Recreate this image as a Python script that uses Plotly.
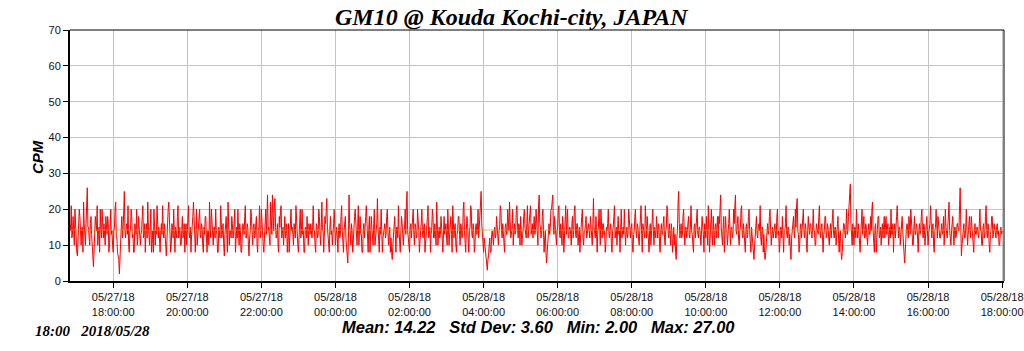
import pandas as pd
import plotly.graph_objects as go

# ---- data (CPM, one reading per minute, starting 2018-05-27 16:50) ----
start_time = "2018-05-27 16:50"
interval = "1min"
cpm = [
    16,14,21,12,13,18,15,10,20,14,12,8,7,13,14,20,18,12,10,15,15,8,22,16,13,10,16,22,26,15,
    15,12,10,16,18,13,8,7,4,8,12,18,16,14,21,10,13,15,8,20,15,12,20,13,12,16,14,10,18,13,
    13,18,16,8,10,15,20,13,14,10,8,14,15,20,22,12,12,8,7,6,2,8,10,15,18,12,14,21,25,14,
    12,15,16,13,21,10,8,14,14,20,18,12,13,8,8,16,15,13,20,10,12,18,16,14,10,13,14,18,21,12,
    13,16,8,14,16,12,22,15,12,10,15,20,8,13,14,8,20,15,10,14,13,21,18,12,15,10,8,14,16,13,
    21,14,12,16,14,10,7,13,16,20,22,14,13,8,10,16,15,12,20,13,8,15,14,12,18,21,12,15,15,10,
    10,14,18,12,13,16,8,14,16,10,14,20,21,13,12,15,8,13,15,18,22,14,13,8,16,20,10,13,14,16,
    20,13,12,16,15,10,8,15,13,18,18,12,8,14,14,10,22,15,12,20,16,13,10,15,15,12,20,14,13,8,
    8,15,14,12,21,16,12,14,16,10,7,13,15,18,13,8,22,15,10,14,14,12,18,16,12,13,16,20,8,14,
    15,12,20,14,10,16,14,8,8,13,16,15,13,18,21,12,12,16,15,10,7,12,14,20,18,13,10,15,16,12,
    13,16,18,10,8,14,15,21,12,13,20,15,14,10,8,14,16,20,13,18,24,14,15,12,10,22,18,13,24,16,
    14,21,23,15,12,13,16,10,8,18,15,20,21,12,13,15,10,14,18,12,14,16,8,13,16,8,12,15,20,14,
    15,13,10,16,14,12,21,15,13,10,8,14,16,20,12,14,20,13,14,8,8,15,15,12,18,14,10,16,14,13,
    16,13,12,15,21,14,14,10,8,16,15,12,13,20,18,13,10,15,22,14,14,8,12,18,16,21,23,15,13,10,
    8,15,18,13,14,10,12,16,20,14,10,13,15,12,8,14,16,12,13,18,21,14,12,8,14,16,18,12,10,8,
    5,12,24,16,13,10,16,14,8,13,14,18,20,15,12,10,15,21,10,14,18,13,13,8,8,14,16,12,14,18,
    21,14,12,8,15,18,8,13,18,15,13,10,16,20,10,14,14,16,23,15,12,8,15,13,20,14,8,12,14,16,
    16,12,13,18,20,14,10,13,15,8,12,8,6,10,14,16,18,13,8,15,15,12,21,14,12,8,14,18,16,13,
    10,14,15,20,13,22,25,14,12,8,8,15,16,12,14,18,20,13,10,16,15,12,13,20,18,14,8,13,14,16,
    20,13,12,15,16,8,10,14,14,18,21,12,13,15,8,13,15,20,18,12,12,16,14,10,22,15,10,13,15,12,
    13,18,16,12,8,14,18,13,14,16,12,10,20,15,10,13,15,18,13,8,21,14,12,15,16,10,8,13,14,18,
    18,13,10,16,15,12,13,20,22,14,12,8,14,18,16,12,8,14,15,21,20,13,12,16,14,8,10,15,16,13,
    14,20,12,15,18,22,25,16,13,8,8,12,10,7,7,5,3,6,7,10,12,8,8,13,14,12,10,14,15,12,
    13,18,16,12,10,14,15,21,20,14,12,16,14,10,8,15,16,13,13,20,18,14,22,16,12,13,15,20,10,14,
    16,13,14,20,21,15,12,16,15,10,18,14,10,13,14,18,20,15,13,12,16,21,12,14,15,18,21,13,14,16,
    12,15,18,13,14,20,16,12,10,21,24,16,15,12,13,18,20,14,8,12,14,8,5,8,12,15,16,13,15,20,
    20,22,24,15,13,18,16,12,10,14,15,20,21,13,12,16,14,10,18,15,8,13,15,21,13,16,20,12,12,15,
    15,13,10,16,18,12,14,20,21,13,12,16,16,10,13,15,8,14,15,18,20,12,10,14,14,16,18,12,13,15,
    16,14,12,18,15,12,10,16,23,15,14,12,18,13,8,14,15,20,13,10,20,15,12,16,16,13,14,8,10,15,
    14,16,20,13,12,15,16,10,8,14,15,18,21,12,13,15,10,14,18,13,14,8,16,20,12,15,15,13,20,14,
    10,14,15,12,13,20,18,14,12,15,16,10,8,13,14,18,20,13,12,16,15,12,10,14,18,21,13,8,16,14,
    14,12,21,15,12,18,15,13,8,14,16,10,13,18,20,14,10,15,14,12,18,13,12,16,15,10,8,14,16,13,
    13,16,18,12,10,14,15,21,20,13,12,16,14,10,16,14,8,13,15,10,13,8,6,12,14,22,25,16,12,14,
    16,12,13,18,20,14,10,15,15,12,14,16,18,13,12,15,21,14,13,10,8,15,16,12,14,18,20,13,12,15,
    15,13,10,14,18,15,13,8,16,14,12,18,14,10,21,15,8,12,15,20,13,10,18,14,10,15,16,12,14,18,
    12,18,16,21,24,15,13,10,15,18,8,13,18,14,14,10,12,16,20,13,10,15,15,12,13,20,16,21,24,14,
    13,16,18,12,10,14,15,20,21,13,12,16,14,10,8,15,16,12,13,18,20,14,12,8,15,13,10,8,6,10,
    14,16,18,13,12,15,16,14,21,12,10,15,15,8,13,8,6,8,12,15,16,13,14,18,20,14,10,13,15,12,
    13,15,16,12,12,18,20,13,14,8,10,15,15,12,18,13,8,14,14,16,21,13,12,15,15,10,13,8,6,12,
    14,16,18,13,12,20,15,21,23,14,13,8,10,15,16,12,14,18,20,13,12,16,15,10,8,14,18,15,13,16,
    16,13,12,15,20,14,14,10,10,16,15,13,13,18,21,14,12,15,16,12,8,13,14,18,18,12,13,16,15,12,
    10,14,16,12,14,18,20,13,12,15,15,10,13,16,18,12,8,13,14,8,6,8,13,16,16,14,12,15,20,13,
    14,18,21,23,27,16,13,10,16,14,10,15,15,12,20,14,12,16,14,10,8,13,16,20,13,15,18,12,12,16,
    15,12,10,14,16,13,13,18,14,20,22,14,12,8,15,16,8,13,14,18,18,12,13,15,10,14,16,12,14,18,
    12,15,18,13,14,16,10,14,15,12,20,13,13,16,8,14,16,12,14,18,21,13,12,15,15,10,13,16,18,14,
    10,7,5,8,13,15,16,12,12,18,15,13,20,14,14,10,10,15,18,13,13,16,15,12,8,14,16,13,14,18,
    20,14,12,16,15,10,13,18,18,14,10,13,14,16,21,13,12,15,16,10,8,14,15,20,13,12,18,15,14,12,
    12,15,16,13,14,18,10,14,20,15,13,12,15,18,22,14,12,10,14,16,18,13,10,15,15,12,13,16,16,14,
    14,21,26,15,7,10,13,16,16,12,12,15,20,14,10,13,15,18,14,12,18,15,12,8,8,14,16,13,13,15,
    15,13,12,16,20,14,14,10,10,15,16,12,13,18,21,14,12,16,15,10,8,13,14,18,18,12,13,16,15,14,
    12,15,16,13,14,10,10,14,15,13,14,
]
mean_value = 14.22
title_text = "GM10 @ Kouda Kochi-city, JAPAN"
stamp_text = "18:00&nbsp;&nbsp;&nbsp;2018/05/28"
stats_text = "Mean: 14.22&nbsp;&nbsp;&nbsp;Std Dev: 3.60&nbsp;&nbsp;&nbsp;Min: 2.00&nbsp;&nbsp;&nbsp;Max: 27.00"
y_title = "CPM"
x_range = ["2018-05-27 16:50", "2018-05-28 18:03"]
tick_start = "2018-05-27 18:00"
tick_end = "2018-05-28 18:00"
y_ticks = [0, 10, 20, 30, 40, 50, 60, 70]

times = pd.date_range(start_time, periods=len(cpm), freq=interval)
tick_times = pd.date_range(tick_start, tick_end, freq="2h")
tick_text = [t.strftime("%m/%d/%y") + "<br>" + t.strftime("%H:%M:%S") for t in tick_times]

fig = go.Figure()
fig.add_trace(go.Scatter(x=times, y=cpm, mode="lines",
                         line=dict(color="#ff0000", width=1), showlegend=False))
fig.add_trace(go.Scatter(x=[times[0], times[-1]], y=[mean_value, mean_value], mode="lines",
                         line=dict(color="rgba(200,170,0,0.7)", width=1), showlegend=False))

L, R, T, B = 70, 20, 30, 70
W, H = 1024, 351
tick_font = dict(family="Liberation Sans, Arial", size=11, color="#111")
fig.update_layout(
    width=W, height=H,
    margin=dict(l=L, r=R, t=T, b=B, autoexpand=False),
    paper_bgcolor="white", plot_bgcolor="white",
    xaxis=dict(range=x_range, tickvals=tick_times, ticktext=tick_text, automargin=False,
               showgrid=True, gridcolor="#c4c4c4", gridwidth=1,
               ticks="outside", ticklen=5, tickcolor="black",
               showline=True, linecolor="black", linewidth=2,
               tickfont=tick_font, zeroline=False),
    yaxis=dict(range=[0, 70], tickvals=y_ticks, automargin=False,
               showgrid=True, gridcolor="#c4c4c4", gridwidth=1,
               ticks="outside", ticklen=5, tickcolor="black",
               showline=True, linecolor="black", linewidth=2,
               tickfont=tick_font, zeroline=False),
    shapes=[
        dict(type="line", xref="paper", yref="paper", x0=0, x1=1, y0=1, y1=1,
             line=dict(color="black", width=1)),
        dict(type="line", xref="paper", yref="paper", x0=1, x1=1, y0=0, y1=1,
             line=dict(color="black", width=1)),
    ],
)

plot_w = W - L - R
plot_h = H - T - B
def px_x(px):
    return (px - L) / plot_w
def px_y(py):
    return (H - B - py) / plot_h

fig.update_layout(annotations=[
    dict(text="<b><i>" + title_text + "</i></b>", x=px_x(512), y=px_y(17),
         xref="paper", yref="paper", showarrow=False,
         font=dict(family="Liberation Serif, Times New Roman", size=24, color="black"),
         xanchor="center", yanchor="middle"),
    dict(text="<b><i>" + y_title + "</i></b>", x=px_x(37), y=px_y(157),
         xref="paper", yref="paper", showarrow=False, textangle=-90,
         font=dict(family="Liberation Sans, Arial", size=15, color="black"),
         xanchor="center", yanchor="middle"),
    dict(text="<b><i>" + stamp_text + "</i></b>", x=px_x(33), y=px_y(331),
         xref="paper", yref="paper", showarrow=False,
         font=dict(family="Liberation Serif, Times New Roman", size=15, color="black"),
         xanchor="left", yanchor="middle"),
    dict(text="<b><i>" + stats_text + "</i></b>", x=px_x(538), y=px_y(327),
         xref="paper", yref="paper", showarrow=False,
         font=dict(family="Liberation Sans, Arial", size=16.5, color="black"),
         xanchor="center", yanchor="middle"),
])

fig.write_html("out.html")
